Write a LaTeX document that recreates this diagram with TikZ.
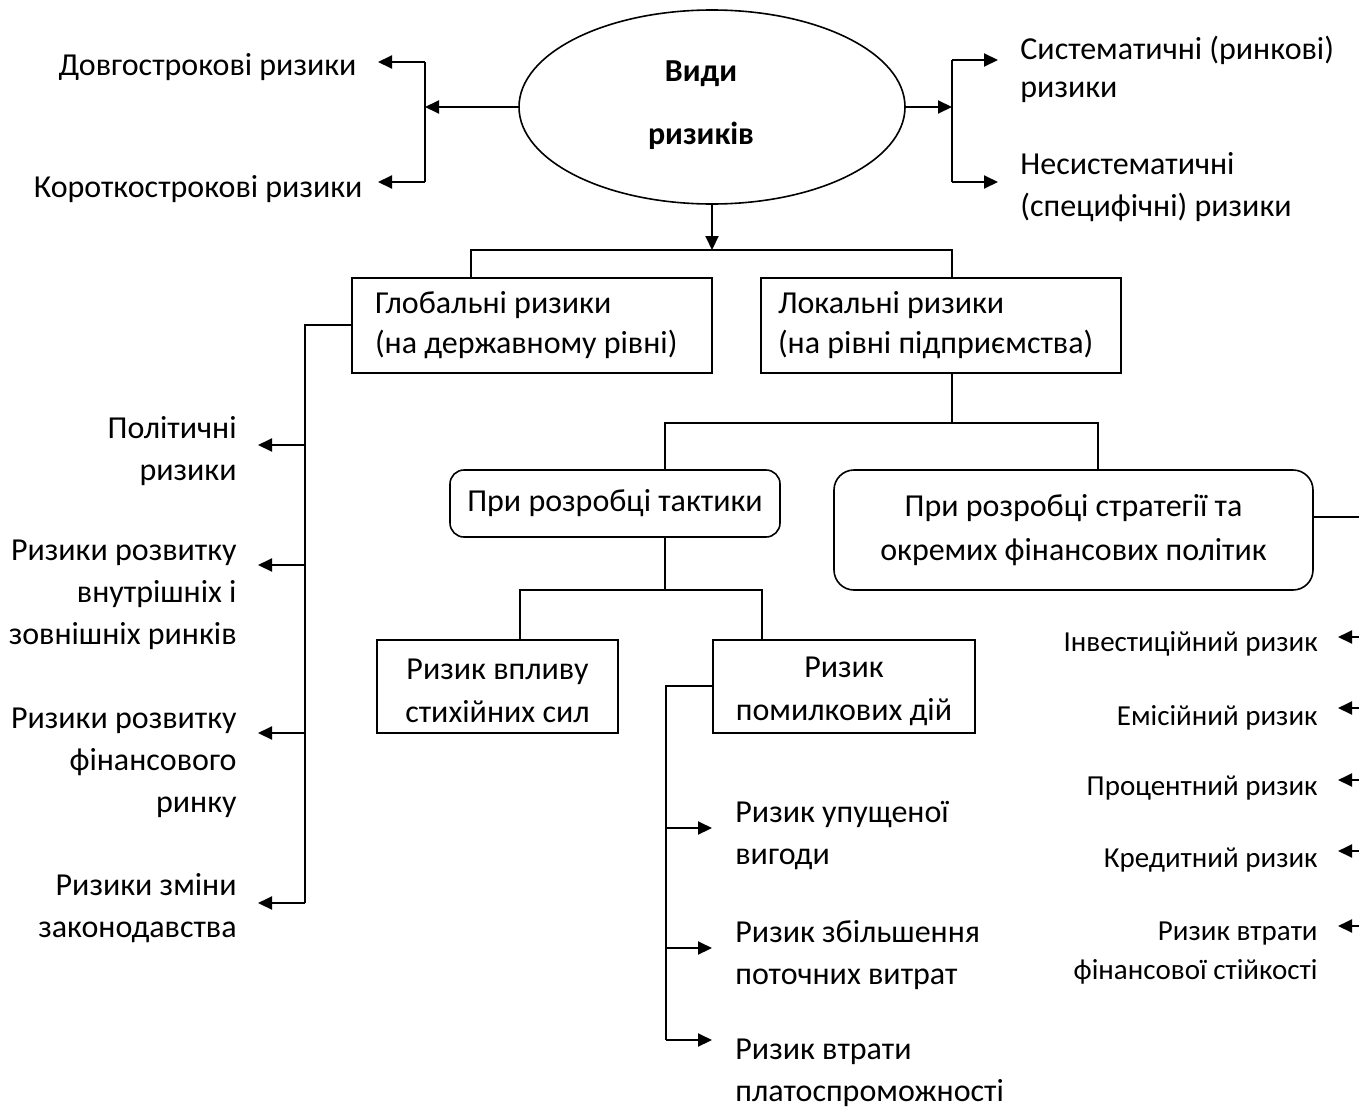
\documentclass[tikz,border=0pt]{standalone}
\usepackage{fontspec}
\setmainfont{Carlito}
\usetikzlibrary{shapes.geometric,arrows.meta}
\begin{document}
\begin{tikzpicture}[x=0.5pt,y=-0.5pt,
  ln/.style={line width=1pt},
  arr/.style={line width=1pt,-{Triangle[length=7pt,width=6.5pt]}},
  boxA/.style={draw,line width=0.8pt,inner sep=0pt,minimum width=180pt,minimum height=47.5pt,
     font=\fontsize{16}{20}\selectfont},
  rbox/.style={draw,line width=0.8pt,rounded corners=7pt,inner sep=0pt,align=center},
  sbox/.style={draw,line width=0.8pt,inner sep=0pt,align=center,minimum height=46.5pt,
     font=\fontsize{16}{21.5}\selectfont},
  txt/.style={inner sep=0pt,font=\fontsize{16}{21}\selectfont},
  stxt/.style={inner sep=0pt,font=\fontsize{14.5}{19.5}\selectfont}]
\useasboundingbox (0,0) rectangle (1359,1108);

% central ellipse
\node[ellipse,draw,line width=0.8pt,minimum width=193pt,minimum height=97pt,inner sep=0pt] (el) at (712,107) {};
\node[inner sep=0pt,align=center,font=\fontsize{16}{31.5}\selectfont\bfseries,anchor=base] (elt) at (701,144) {Види\\ризиків};

% left of ellipse
\node[txt,anchor=base east] (d1) at (357,75) {Довгострокові ризики};
\node[txt,anchor=base east] (d2) at (363,197) {Короткострокові ризики};
\coordinate (lb) at (425,107);
\coordinate (lbT) at (425,62);
\coordinate (lbB) at (425,182);
\coordinate (d1a) at (378,62);
\coordinate (d2a) at (378,182);
\draw[arr] (el.west) -- (lb);
\draw[ln] (lbT) -- (lbB);
\draw[arr] (lbT) -- (d1a);
\draw[arr] (lbB) -- (d2a);

% right of ellipse
\node[txt,anchor=base west,align=left,font=\fontsize{16}{19}\selectfont] (s1) at (1020,97) {Систематичні (ринкові)\\ризики};
\node[txt,anchor=base west,align=left] (s2) at (1020,216) {Несистематичні\\(специфічні) ризики};
\coordinate (rb) at (952,107);
\coordinate (rbT) at (952,60);
\coordinate (rbB) at (952,182);
\coordinate (s1a) at (998,60);
\coordinate (s2a) at (998,182);
\draw[arr] (el.east) -- (rb);
\draw[ln] (rbT) -- (rbB);
\draw[arr] (rbT) -- (s1a);
\draw[arr] (rbB) -- (s2a);

% level 2
\node[boxA,text width=157pt,align=flush left] (glob) at (532,325.5) {Глобальні ризики\\(на державному рівні)};
\node[boxA,text width=163pt,align=flush left] (lok) at (941,325.5) {Локальні ризики\\(на рівні підприємства)};
\coordinate (hb) at (712,250);
\coordinate (hL) at (471,250);
\coordinate (hR) at (952,250);
\draw[arr] (el.south) -- (hb);
\draw[ln] (hL |- glob.north) -- (hL) -- (hR) -- (hR |- lok.north);

% global branch
\coordinate (gj) at (305,325);
\coordinate (gB) at (305,903);
\draw[ln] (glob.west |- gj) -- (gj) -- (gB);
\node[txt,anchor=base east,align=right] (p1) at (237,480) {Політичні\\ризики};
\node[txt,anchor=base east,align=right] (p2) at (237,644) {Ризики розвитку\\внутрішніх і\\зовнішніх ринків};
\node[txt,anchor=base east,align=right] (p3) at (237,812) {Ризики розвитку\\фінансового\\ринку};
\node[txt,anchor=base east,align=right] (p4) at (237,937) {Ризики зміни\\законодавства};
\foreach \y/\n in {445/1,565/2,733/3,903/4}{
  \coordinate (pa\n) at (258,\y);
  \draw[arr] (305,\y) -- (pa\n);
}

% local branch
\node[rbox,minimum width=165pt,minimum height=33.5pt,font=\fontsize{16}{21}\selectfont] (tact) at (615,503.5) {При розробці тактики};
\node[rbox,rounded corners=10pt,minimum width=239.5pt,minimum height=60pt,font=\fontsize{16}{22}\selectfont] (strat) at (1073.5,530) {При розробці стратегії та\\окремих фінансових політик};
\coordinate (lj) at (952,423);
\coordinate (lL) at (665,423);
\coordinate (lR) at (1098,423);
\draw[ln] (lok.south -| lj) -- (lj);
\draw[ln] (lL |- tact.north) -- (lL) -- (lR) -- (lR |- strat.north);
\coordinate (sE) at (1359,517);
\draw[ln] (strat.east |- sE) -- (sE);

% tactics branch
\node[sbox,minimum width=120.5pt] (vplyv) at (497.5,686.5) {\strut Ризик впливу\\стихійних сил};
\node[sbox,minimum width=131pt] (pomyl) at (844,686.5) {\strut Ризик\\помилкових дій};
\coordinate (tj) at (665,590);
\coordinate (tL) at (520,590);
\coordinate (tR) at (762,590);
\draw[ln] (tact.south -| tj) -- (tj);
\draw[ln] (tL |- vplyv.north) -- (tL) -- (tR) -- (tR |- pomyl.north);

% errors branch
\coordinate (ej) at (666,686);
\coordinate (eB) at (666,1040);
\draw[ln] (pomyl.west |- ej) -- (ej) -- (eB);
\node[txt,anchor=base west,align=left] (u1) at (735,864) {Ризик упущеної\\вигоди};
\node[txt,anchor=base west,align=left] (u2) at (735,984) {Ризик збільшення\\поточних витрат};
\node[txt,anchor=base west,align=left] (u3) at (735,1101) {Ризик втрати\\платоспроможності};
\foreach \y/\n in {828/1,948/2,1040/3}{
  \coordinate (ua\n) at (712,\y);
  \draw[arr] (666,\y) -- (ua\n);
}

% strategy list (right)
\node[stxt,anchor=base east] (r1) at (1318,651) {Інвестиційний ризик};
\node[stxt,anchor=base east] (r2) at (1318,725) {Емісійний ризик};
\node[stxt,anchor=base east] (r3) at (1318,795) {Процентний ризик};
\node[stxt,anchor=base east] (r4) at (1318,867) {Кредитний ризик};
\node[stxt,anchor=base east,align=right] (r5) at (1318,979) {Ризик втрати\\фінансової стійкості};
\foreach \y/\n in {637/1,708/2,780/3,851/4,926/5}{
  \coordinate (ra\n) at (1338,\y);
  \draw[arr] (1359,\y) -- (ra\n);
}
\end{tikzpicture}
\end{document}
